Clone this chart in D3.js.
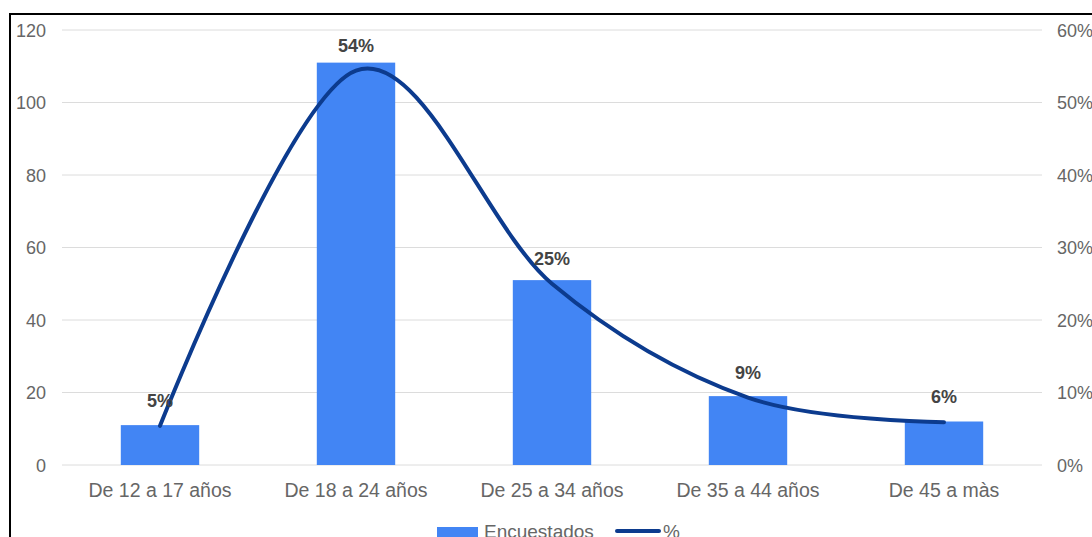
<!DOCTYPE html>
<html><head><meta charset="utf-8">
<script src="https://cdn.jsdelivr.net/npm/d3@7"></script>
<style>html,body{margin:0;padding:0;background:#fff;overflow:hidden}svg{display:block}</style>
</head><body><svg id="c" width="1092" height="537"></svg>
<script>
const categories = ["De 12 a 17 años","De 18 a 24 años","De 25 a 34 años","De 35 a 44 años","De 45 a màs"];
const encuestados = [11, 111, 51, 19, 12];
const percent = [0.054, 0.544, 0.25, 0.093, 0.059];
const percentLabels = ["5%","54%","25%","9%","6%"];
const leftTicks = [0,20,40,60,80,100,120];
const rightTicks = [0,0.1,0.2,0.3,0.4,0.5,0.6];
const legendLabels = ["Encuestados","%"];

const W=1092,H=537;
const m={l:62,r:1042,t:30,b:465};
const font='"Liberation Sans", Arial, sans-serif';
const svg=d3.select("#c");

svg.append("rect").attr("x",10).attr("y",14).attr("width",W+10).attr("height",H+10)
  .attr("fill","#fff").attr("stroke","#000").attr("stroke-width",2);

const x=d3.scaleBand().domain(categories).range([m.l,m.r]).paddingInner(0.6).paddingOuter(0.3);
const yL=d3.scaleLinear().domain([0,120]).range([m.b,m.t]);
const yR=d3.scaleLinear().domain([0,0.6]).range([m.b,m.t]);

// grid
svg.append("g").selectAll("line").data(leftTicks).join("line")
  .attr("x1",m.l).attr("x2",m.r).attr("y1",d=>yL(d)).attr("y2",d=>yL(d))
  .attr("stroke","#dcdcdc").attr("stroke-width",1);

// left axis
const gl=svg.append("g").attr("transform",`translate(${m.l-16},0)`)
  .call(d3.axisLeft(yL).tickValues(leftTicks).tickSize(0).tickPadding(0));
gl.select(".domain").remove();
gl.selectAll("text").attr("font-family",font).attr("font-size",18).attr("fill","#666").attr("dy","0.36em");

// right axis
const gr=svg.append("g").attr("transform",`translate(${m.r+15},0)`)
  .call(d3.axisRight(yR).tickValues(rightTicks).tickFormat(d3.format(".0%")).tickSize(0).tickPadding(0));
gr.select(".domain").remove();
gr.selectAll("text").attr("font-family",font).attr("font-size",18).attr("fill","#666").attr("dy","0.36em");

// bottom axis
const gb=svg.append("g").attr("transform",`translate(0,${m.b})`)
  .call(d3.axisBottom(x).tickSize(0).tickPadding(0));
gb.select(".domain").remove();
gb.selectAll("text").attr("font-family",font).attr("font-size",19.5).attr("fill","#666").attr("dy",null).attr("y",32);

// bars
svg.append("g").selectAll("rect").data(categories).join("rect")
  .attr("x",d=>x(d)).attr("width",x.bandwidth())
  .attr("y",(d,i)=>yL(encuestados[i])).attr("height",(d,i)=>yL(0)-yL(encuestados[i]))
  .attr("fill","#4285f4");

// line
const cx=d=>x(d)+x.bandwidth()/2;
const line=d3.line().x(d=>cx(d[0])).y(d=>yR(d[1])).curve(d3.curveCatmullRom.alpha(0));
svg.append("path").datum(categories.map((c,i)=>[c,percent[i]]))
  .attr("d",line).attr("fill","none").attr("stroke","#0c3b8e").attr("stroke-width",4).attr("stroke-linecap","round");

// labels
svg.append("g").selectAll("text").data(categories).join("text")
  .attr("x",d=>cx(d)).attr("y",(d,i)=>yR(percent[i])-19)
  .attr("text-anchor","middle").attr("font-family",font).attr("font-size",18).attr("font-weight","bold")
  .attr("fill","#444").text((d,i)=>percentLabels[i]);

// legend
const lg=svg.append("g");
lg.append("rect").attr("x",437).attr("y",527).attr("width",41).attr("height",14).attr("fill","#4285f4");
lg.append("text").attr("x",484).attr("y",538).attr("font-family",font).attr("font-size",19).attr("fill","#666").text(legendLabels[0]);
lg.append("line").attr("x1",617).attr("x2",659).attr("y1",531).attr("y2",531).attr("stroke","#0c3b8e").attr("stroke-width",4).attr("stroke-linecap","round");
lg.append("text").attr("x",663).attr("y",538).attr("font-family",font).attr("font-size",19).attr("fill","#666").text(legendLabels[1]);
</script></body></html>
